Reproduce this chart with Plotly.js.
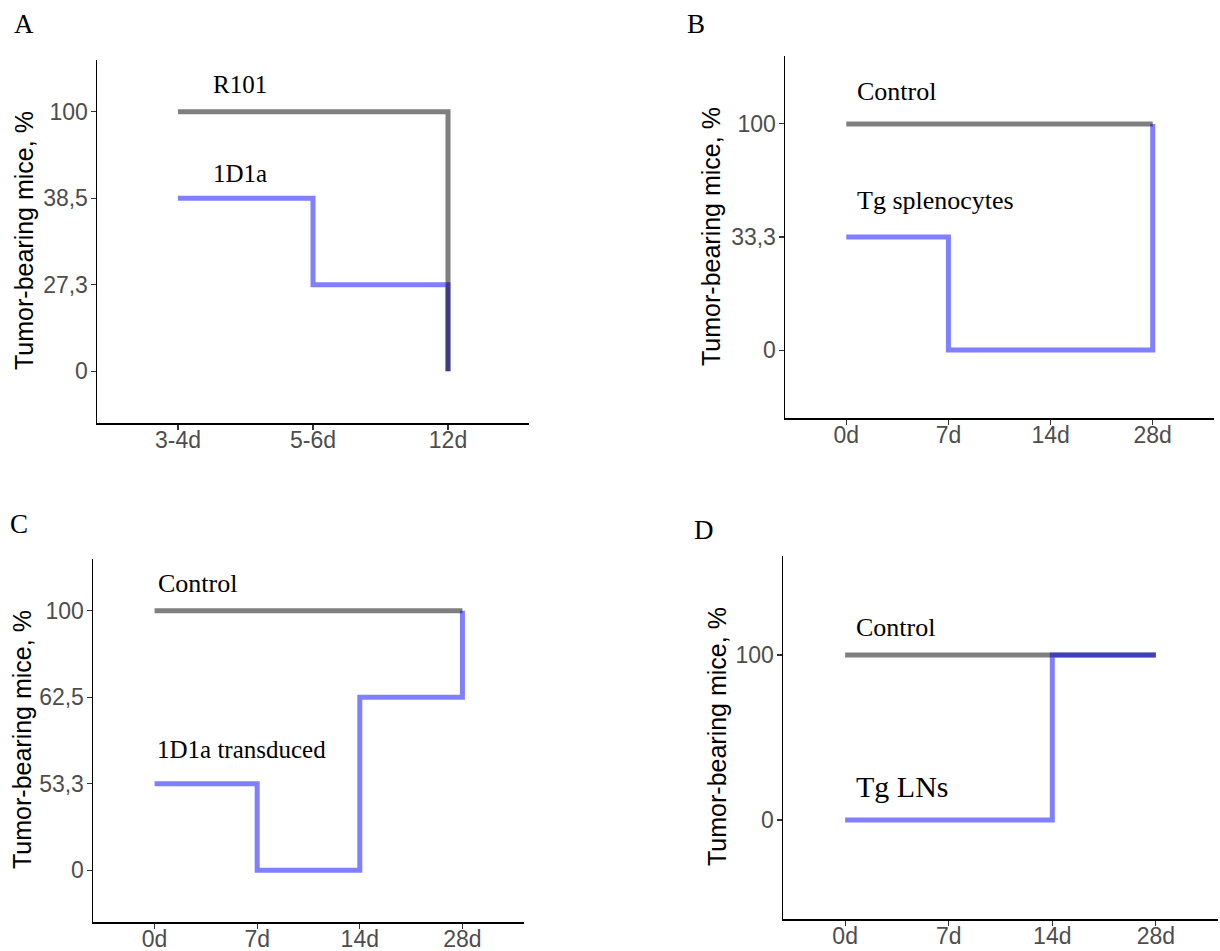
<!DOCTYPE html>
<html>
<head>
<meta charset="utf-8">
<script src="https://cdn.plot.ly/plotly-3.0.1.min.js"></script>
<style>html,body{margin:0;padding:0;background:#fff;}#chart{width:1220px;height:951px;}</style>
</head>
<body>
<div id="chart"></div>
<script>
// ---------- Data ----------
// Panel A
const xCatsA = ['3-4d', '5-6d', '12d'];
const yCatsA = ['0', '27,3', '38,5', '100'];
const r101X = ['3-4d', '12d'];
const r101Y = ['100', '0'];
const d1aX = ['3-4d', '5-6d', '12d'];
const d1aY = ['38,5', '27,3', '0'];

// Panel B
const xCatsB = ['0d', '7d', '14d', '28d'];
const yCatsB = ['0', '33,3', '100'];
const ctrlBX = ['0d', '28d'];
const ctrlBY = ['100', '100'];
const tgSplX = ['0d', '7d', '28d'];
const tgSplY = ['33,3', '0', '100'];

// Panel C
const xCatsC = ['0d', '7d', '14d', '28d'];
const yCatsC = ['0', '53,3', '62,5', '100'];
const ctrlCX = ['0d', '28d'];
const ctrlCY = ['100', '100'];
const transX = ['0d', '7d', '14d', '28d'];
const transY = ['53,3', '0', '62,5', '100'];

// Panel D
const xCatsD = ['0d', '7d', '14d', '28d'];
const yCatsD = ['0', '100'];
const ctrlDX = ['0d', '28d'];
const ctrlDY = ['100', '100'];
const tgLNsX = ['0d', '14d', '28d'];
const tgLNsY = ['0', '100', '100'];

// ---------- Styling ----------
const W = 1220, H = 951;
const px = x => x / W;
const py = y => 1 - y / H;
const GRAY = 'rgba(0,0,0,0.5)';
const BLUE = 'rgba(0,0,255,0.5)';
const LW = 5;

function line(x, y, color, xa, ya) {
  return {x: x, y: y, xaxis: xa, yaxis: ya, type: 'scatter', mode: 'lines',
    line: {color: color, width: LW, shape: 'hv'}, hoverinfo: 'skip', showlegend: false};
}

const traces = [
  line(d1aX, d1aY, BLUE, 'x', 'y'),
  line(r101X, r101Y, GRAY, 'x', 'y'),
  line(ctrlBX, ctrlBY, GRAY, 'x2', 'y2'),
  line(tgSplX, tgSplY, BLUE, 'x2', 'y2'),
  line(ctrlCX, ctrlCY, GRAY, 'x3', 'y3'),
  line(transX, transY, BLUE, 'x3', 'y3'),
  line(ctrlDX, ctrlDY, GRAY, 'x4', 'y4'),
  line(tgLNsX, tgLNsY, BLUE, 'x4', 'y4')
];

const tickFont = {family: 'Liberation Sans, Arial, sans-serif', size: 23, color: '#4d4d4d'};
function xAxis(cats, x0, x1, anchor) {
  return {type: 'category', categoryorder: 'array', categoryarray: cats,
    range: [-0.6, cats.length - 0.4], domain: [px(x0), px(x1)], anchor: anchor,
    showline: true, linecolor: '#000', linewidth: 1.5, showgrid: false, zeroline: false,
    ticks: 'outside', ticklen: 5, tickwidth: 1.2, tickcolor: '#333', tickfont: tickFont,
    ticklabelstandoff: -9, fixedrange: true};
}
function yAxis(cats, y0, y1, anchor) {
  return {type: 'category', categoryorder: 'array', categoryarray: cats,
    range: [-0.6, cats.length - 0.4], domain: [py(y1), py(y0)], anchor: anchor,
    showline: true, linecolor: '#000', linewidth: 1.5, showgrid: false, zeroline: false,
    ticks: 'outside', ticklen: 5, tickwidth: 1.2, tickcolor: '#333', tickfont: tickFont,
    ticklabelstandoff: -2, fixedrange: true};
}

const serif = 'Liberation Serif, Times New Roman, serif';
const sans = 'Liberation Sans, Arial, sans-serif';
function txt(text, x, y, size, family, opts) {
  return Object.assign({text: text, xref: 'paper', yref: 'paper', x: px(x), y: py(y),
    xanchor: 'left', yanchor: 'middle', showarrow: false,
    font: {family: family, size: size, color: '#000'}}, opts || {});
}
function ytitle(x, y) {
  return txt('Tumor-bearing mice, %', x, y, 25, sans, {xanchor: 'center', textangle: -90});
}

const annotations = [
  txt('A', 12, 24, 27, serif),
  txt('B', 685, 24, 27, serif),
  txt('C', 8, 524, 27, serif),
  txt('D', 692, 530, 27, serif),
  ytitle(24, 241),
  ytitle(711, 237),
  ytitle(22, 740),
  ytitle(717, 737),
  txt('R101', 211, 84, 25, serif),
  txt('1D1a', 211, 174, 25, serif),
  txt('Control', 855, 92, 26, serif),
  txt('Tg splenocytes', 855, 200, 26, serif),
  txt('Control', 156, 583, 26, serif),
  txt('1D1a transduced', 155, 749, 25, serif),
  txt('Control', 854, 627, 26, serif),
  txt('Tg LNs', 854, 786, 30, serif)
];

const layout = {
  width: W, height: H, autosize: false,
  margin: {l: 0, r: 0, t: 0, b: 0},
  paper_bgcolor: '#fff', plot_bgcolor: '#fff',
  showlegend: false,
  xaxis: xAxis(xCatsA, 97, 529, 'y'),
  yaxis: yAxis(yCatsA, 60, 423, 'x'),
  xaxis2: xAxis(xCatsB, 785, 1214, 'y2'),
  yaxis2: yAxis(yCatsB, 56, 418, 'x2'),
  xaxis3: xAxis(xCatsC, 93, 524, 'y3'),
  yaxis3: yAxis(yCatsC, 559, 922, 'x3'),
  xaxis4: xAxis(xCatsD, 783, 1218, 'y4'),
  yaxis4: yAxis(yCatsD, 556, 919, 'x4'),
  annotations: annotations
};

Plotly.newPlot('chart', traces, layout, {displayModeBar: false, staticPlot: true});
</script>
</body>
</html>
